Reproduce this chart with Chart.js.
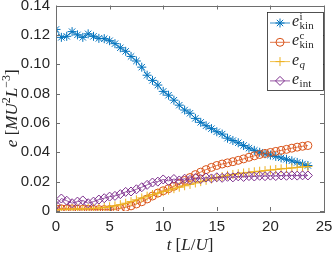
<!DOCTYPE html>
<html lang="en">
<head>
  <meta charset="UTF-8" />
  <title>Energy components</title>
  <script src="https://cdn.jsdelivr.net/npm/chart.js"></script>
  <style>
    html, body { margin: 0; padding: 0; background: #fff; }
    #wrap { width: 332px; height: 254px; position: relative; }
  </style>
</head>
<body>
  <div id="wrap"><canvas id="energyChart"></canvas></div>

  <script>
    // time axis [L/U]
    const tValues = [0, 0.5, 1, 1.5, 2, 2.5, 3, 3.5, 4, 4.5, 5, 5.5, 6, 6.5, 7, 7.5, 8, 8.5, 9, 9.5,
      10, 10.5, 11, 11.5, 12, 12.5, 13, 13.5, 14, 14.5, 15, 15.5, 16, 16.5, 17, 17.5, 18, 18.5, 19, 19.5,
      20, 20.5, 21, 21.5, 22, 22.5, 23, 23.5];

    const eKinI = [0.1237, 0.1183, 0.1190, 0.1222, 0.1200, 0.1183, 0.1207, 0.1190, 0.1176, 0.1174,
      0.1160, 0.1140, 0.1112, 0.1088, 0.1053, 0.1022, 0.0980, 0.0925, 0.0890, 0.0858,
      0.0815, 0.0789, 0.0755, 0.0721, 0.0688, 0.0666, 0.0631, 0.0604, 0.0581, 0.0561,
      0.0540, 0.0524, 0.0496, 0.0480, 0.0465, 0.0446, 0.0428, 0.0413, 0.0400, 0.0390,
      0.0381, 0.0372, 0.0362, 0.0352, 0.0342, 0.0331, 0.0320, 0.0310];

    const eKinC = [0.0015, 0.0015, 0.0015, 0.0015, 0.0012, 0.0012, 0.0012, 0.0010, 0.0010, 0.0010,
      0.0010, 0.0012, 0.0018, 0.0025, 0.0035, 0.0048, 0.0063, 0.0082, 0.0102, 0.0122,
      0.0138, 0.0152, 0.0168, 0.0188, 0.0208, 0.0228, 0.0248, 0.0265, 0.0282, 0.0297,
      0.0310, 0.0320, 0.0328, 0.0336, 0.0345, 0.0355, 0.0366, 0.0376, 0.0385, 0.0392,
      0.0399, 0.0406, 0.0413, 0.0420, 0.0428, 0.0435, 0.0441, 0.0446];

    const eQ = [0.0008, 0.0010, 0.0012, 0.0013, 0.0014, 0.0015, 0.0016, 0.0018, 0.0020, 0.0024,
      0.0029, 0.0035, 0.0043, 0.0053, 0.0064, 0.0076, 0.0089, 0.0101, 0.0112, 0.0122,
      0.0132, 0.0142, 0.0152, 0.0162, 0.0172, 0.0181, 0.0191, 0.0200, 0.0209, 0.0218,
      0.0227, 0.0235, 0.0243, 0.0249, 0.0254, 0.0259, 0.0263, 0.0267, 0.0271, 0.0275,
      0.0279, 0.0283, 0.0287, 0.0290, 0.0293, 0.0297, 0.0300, 0.0303];

    const eInt = [0.0040, 0.0085, 0.0070, 0.0053, 0.0064, 0.0072, 0.0053, 0.0064, 0.0078, 0.0087,
      0.0098, 0.0103, 0.0115, 0.0130, 0.0133, 0.0148, 0.0162, 0.0178, 0.0194, 0.0200,
      0.0215, 0.0205, 0.0218, 0.0208, 0.0220, 0.0212, 0.0225, 0.0218, 0.0228, 0.0222,
      0.0230, 0.0226, 0.0233, 0.0229, 0.0236, 0.0232, 0.0238, 0.0235, 0.0240, 0.0237,
      0.0241, 0.0238, 0.0242, 0.0240, 0.0243, 0.0241, 0.0243, 0.0242];

    const xTicks = [0, 5, 10, 15, 20, 25];
    const yTicks = [0, 0.02, 0.04, 0.06, 0.08, 0.10, 0.12, 0.14];

    const axisColor = "#262626";
    const frameColor = "#6e6e6e";
    const serif = "'Liberation Serif'";

    function pts(ys) {
      return tValues.map((t, i) => ({ x: t, y: ys[i] }));
    }

    function series(data, color, style, radius, order) {
      return {
        data: pts(data),
        borderColor: color,
        backgroundColor: "rgba(0,0,0,0)",
        borderWidth: 0.8,
        pointStyle: style,
        pointRadius: radius,
        pointBorderColor: color,
        pointBorderWidth: 1,
        pointBackgroundColor: "rgba(0,0,0,0)",
        order: order
      };
    }

    // draws a run of [text, font, dy] pieces starting at x, returns the end x
    function drawRun(ctx, parts, x, y, measureOnly) {
      parts.forEach(p => {
        ctx.font = p[1];
        if (!measureOnly) ctx.fillText(p[0], x, y + (p[2] || 0));
        x += ctx.measureText(p[0]).width;
      });
      return x;
    }

    // box + inward ticks on all four sides
    const framePlugin = {
      id: "frame",
      afterDraw(chart) {
        const { ctx, chartArea: a, scales } = chart;
        ctx.save();
        ctx.strokeStyle = frameColor;
        ctx.lineWidth = 1;
        ctx.strokeRect(Math.round(a.left) + 0.5, Math.round(a.top) + 0.5,
          Math.round(a.right - a.left), Math.round(a.bottom - a.top));
        ctx.beginPath();
        xTicks.forEach(v => {
          const px = Math.round(scales.x.getPixelForValue(v)) + 0.5;
          ctx.moveTo(px, a.bottom); ctx.lineTo(px, a.bottom - 4);
          ctx.moveTo(px, a.top); ctx.lineTo(px, a.top + 4);
        });
        yTicks.forEach(v => {
          const py = Math.round(scales.y.getPixelForValue(v)) + 0.5;
          ctx.moveTo(a.left, py); ctx.lineTo(a.left + 4, py);
          ctx.moveTo(a.right, py); ctx.lineTo(a.right - 4, py);
        });
        ctx.stroke();
        ctx.restore();
      }
    };

    // axis titles with math-style formatting
    const titlePlugin = {
      id: "mathTitles",
      afterDraw(chart) {
        const ctx = chart.ctx;
        const a = chart.chartArea;
        const it = "italic 17px " + serif, up = "17px " + serif, sm = "12px " + serif;
        ctx.save();
        ctx.fillStyle = axisColor;
        ctx.textBaseline = "alphabetic";
        ctx.textAlign = "left";

        const xParts = [["t", it], [" [", up], ["L", it], ["/", up], ["U", it], ["]", up]];
        const xw = drawRun(ctx, xParts, 0, 0, true);
        drawRun(ctx, xParts, (a.left + a.right) / 2 - xw / 2, 250);

        const yParts = [["e", it], [" [", up], ["MU", it], ["2", sm, -7], ["L", it],
          ["\u22123", sm, -7], ["]", up]];
        const yw = drawRun(ctx, yParts, 0, 0, true);
        ctx.translate(17, (a.top + a.bottom) / 2 + yw / 2);
        ctx.rotate(-Math.PI / 2);
        drawRun(ctx, yParts, 0, 0);
        ctx.restore();
      }
    };

    // legend with sub/superscripts
    const legendPlugin = {
      id: "mathLegend",
      afterDraw(chart) {
        const ctx = chart.ctx;
        const a = chart.chartArea;
        const boxR = Math.round(a.right) - 1, boxL = boxR - 56, boxT = Math.round(a.top) + 6, boxB = boxT + 78;
        ctx.save();
        ctx.fillStyle = "#fff";
        ctx.fillRect(boxL, boxT, boxR - boxL, boxB - boxT);
        ctx.strokeStyle = axisColor;
        ctx.lineWidth = 0.8;
        ctx.strokeRect(boxL + 0.5, boxT + 0.5, boxR - boxL, boxB - boxT);

        const entries = [
          { sup: "i", sub: "kin", subItalic: false },
          { sup: "c", sub: "kin", subItalic: false },
          { sup: "", sub: "q", subItalic: true },
          { sup: "", sub: "int", subItalic: false }
        ];
        entries.forEach((e, i) => {
          const ds = chart.data.datasets[i];
          const y = boxT + 11 + i * 19.3;
          ctx.strokeStyle = ds.borderColor;
          ctx.fillStyle = "rgba(0,0,0,0)";
          ctx.lineWidth = 0.8;
          ctx.beginPath();
          ctx.moveTo(boxL + 3, y); ctx.lineTo(boxL + 23, y);
          ctx.stroke();
          ctx.lineWidth = 1;
          Chart.helpers.drawPoint(ctx, {
            pointStyle: ds.pointStyle, radius: ds.pointRadius, borderWidth: 1
          }, boxL + 13, y);

          ctx.fillStyle = axisColor;
          ctx.textBaseline = "alphabetic";
          ctx.textAlign = "left";
          let x = boxL + 25;
          ctx.font = "italic 16px " + serif;
          ctx.fillText("e", x, y + 3);
          x += ctx.measureText("e").width + 0.5;
          ctx.font = "11px " + serif;
          if (e.sup) ctx.fillText(e.sup, x, y - 3);
          ctx.font = (e.subItalic ? "italic " : "") + "11px " + serif;
          ctx.fillText(e.sub, x, y + 6);
        });
        ctx.restore();
      }
    };

    const ctx = document.getElementById("energyChart").getContext("2d");
    new Chart(ctx, {
      type: "line",
      data: {
        datasets: [
          series(eKinI, "#0072BD", "star", 4.5, 4),
          series(eKinC, "#D95319", "circle", 4, 3),
          series(eQ, "#EDB120", "cross", 4.5, 2),
          series(eInt, "#7E2F8E", "rectRot", 4.5, 1)
        ]
      },
      options: {
        responsive: true,
        maintainAspectRatio: false,
        animation: false,
        layout: { padding: { left: 0, right: 8, top: 5, bottom: 0 } },
        plugins: { legend: { display: false }, tooltip: { enabled: false } },
        scales: {
          x: {
            type: "linear",
            min: 0, max: 25,
            grid: { display: false, drawTicks: false },
            border: { display: false },
            ticks: {
              stepSize: 5, padding: 7, color: axisColor, maxRotation: 0,
              font: { family: "'Liberation Sans'", size: 15 }
            },
            afterFit(scale) {
              scale.height = 43;
              scale.paddingLeft = 0; scale.paddingRight = 0;
            }
          },
          y: {
            min: 0, max: 0.14,
            grid: { display: false, drawTicks: false },
            border: { display: false },
            ticks: {
              stepSize: 0.02, padding: 6, color: axisColor,
              font: { family: "'Liberation Sans'", size: 15 },
              callback: v => (v === 0 ? "0" : v.toFixed(2))
            },
            afterFit(scale) {
              scale.width = 56;
              scale.paddingTop = 0; scale.paddingBottom = 0;
            }
          }
        }
      },
      plugins: [framePlugin, titlePlugin, legendPlugin]
    });
  </script>
</body>
</html>
